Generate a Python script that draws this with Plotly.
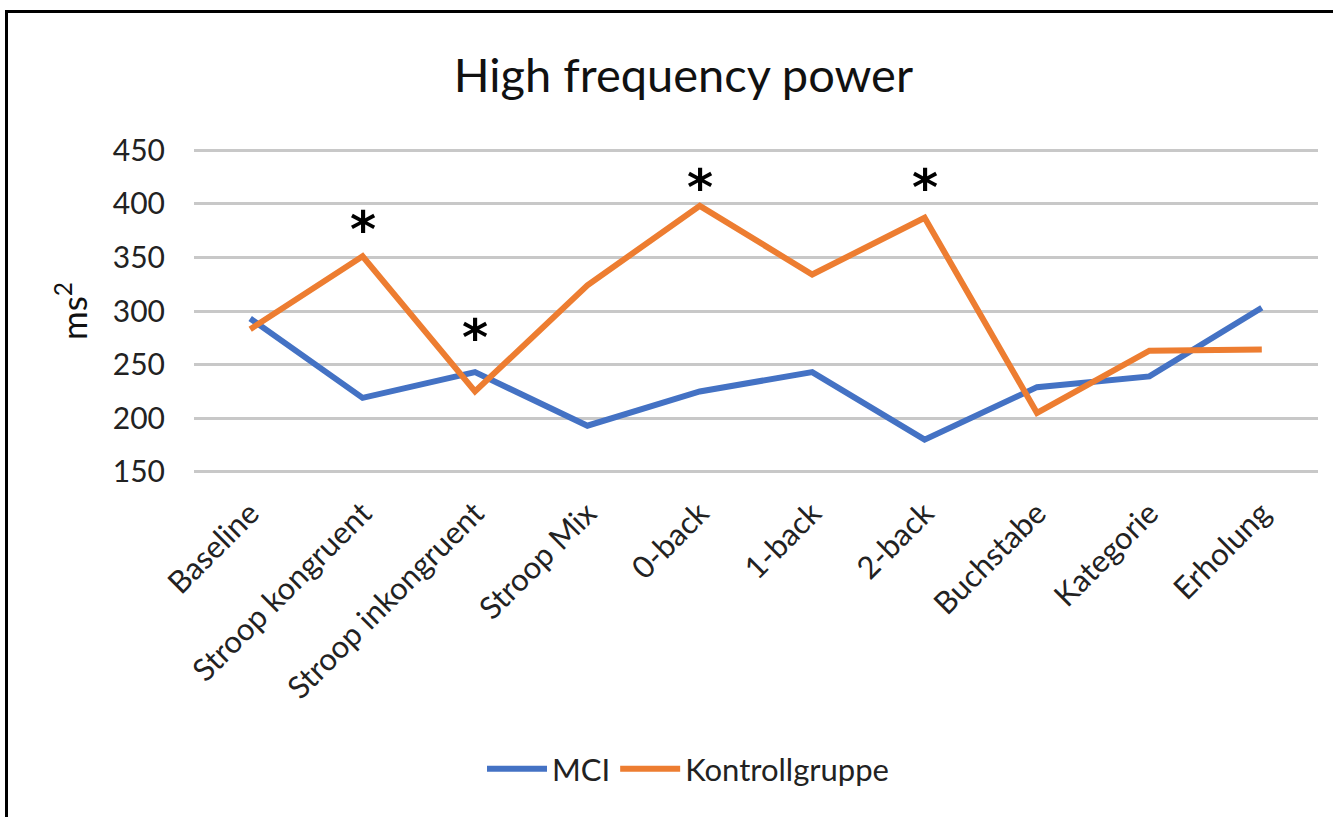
import plotly.graph_objects as go

categories = ["Baseline", "Stroop kongruent", "Stroop inkongruent", "Stroop Mix",
              "0-back", "1-back", "2-back", "Buchstabe", "Kategorie", "Erholung"]
mci = [293, 219, 243, 193, 225, 243, 180, 229, 239, 303]
kontroll = [283, 351, 225, 324, 398, 334, 387, 205, 263, 264]
sig_categories = ["Stroop kongruent", "Stroop inkongruent", "0-back", "2-back"]
sig_y = [376, 275, 415, 415]
y_ticks = [150, 200, 250, 300, 350, 400, 450]

W, H = 1340, 817
ml, mr, mt, mb = 194, 22, 148, 343

FONT = "Lato, Open Sans, sans-serif"

fig = go.Figure()
fig.add_trace(go.Scatter(x=categories, y=mci, mode="lines", name="MCI",
                         line=dict(color="#4472C4", width=6)))
fig.add_trace(go.Scatter(x=categories, y=kontroll, mode="lines", name="Kontrollgruppe",
                         line=dict(color="#ED7D31", width=6)))

for c, y in zip(sig_categories, sig_y):
    fig.add_annotation(x=c, y=y, text="<b>*</b>", showarrow=False,
                       font=dict(size=50, color="black", family="DejaVu Sans"),
                       yanchor="middle")

pw = W - ml - mr
ph = H - mt - mb
def px2x(px):
    return (px - ml) / pw
def py2y(py):
    return 1 - (py - mt) / ph

# figure border (left and top visible)
fig.add_shape(type="line", xref="paper", yref="paper",
              x0=px2x(6.5), x1=px2x(6.5), y0=py2y(10), y1=py2y(830),
              line=dict(color="black", width=3))
fig.add_shape(type="line", xref="paper", yref="paper",
              x0=px2x(5), x1=px2x(1333), y0=py2y(11.5), y1=py2y(11.5),
              line=dict(color="black", width=3))

fig.update_layout(
    width=W, height=H,
    margin=dict(l=ml, r=mr, t=mt, b=mb),
    paper_bgcolor="white", plot_bgcolor="white",
    font=dict(family=FONT, color="#222222"),
    title=dict(text="High frequency power", x=0.51, xanchor="center",
               y=1 - 76 / H, yanchor="middle",
               font=dict(size=47, color="#111111", family=FONT)),
    showlegend=True,
    legend=dict(orientation="h", x=px2x(688), xanchor="center", y=py2y(769), yanchor="middle",
                font=dict(size=31, color="#222222"), itemwidth=60, traceorder="normal"),
    xaxis=dict(type="category", tickangle=-45, tickfont=dict(size=31, color="#222222"),
               showgrid=False, showline=False, zeroline=False, ticks="",
               ticklabelstandoff=14, range=[-0.5, 9.5]),
    yaxis=dict(range=[148, 452], tickvals=y_ticks, tickfont=dict(size=30, color="#222222"),
               showgrid=True, gridcolor="#c8c8c8", gridwidth=2.5,
               zeroline=False, showline=False, ticks="", ticklabelstandoff=28,
               title=dict(text="ms<sup>2</sup>", font=dict(size=35, color="#111111"),
                          standoff=14)),
)

fig.write_html("out.html", config={"displayModeBar": False},
               post_script="document.body.style.margin='0';")
